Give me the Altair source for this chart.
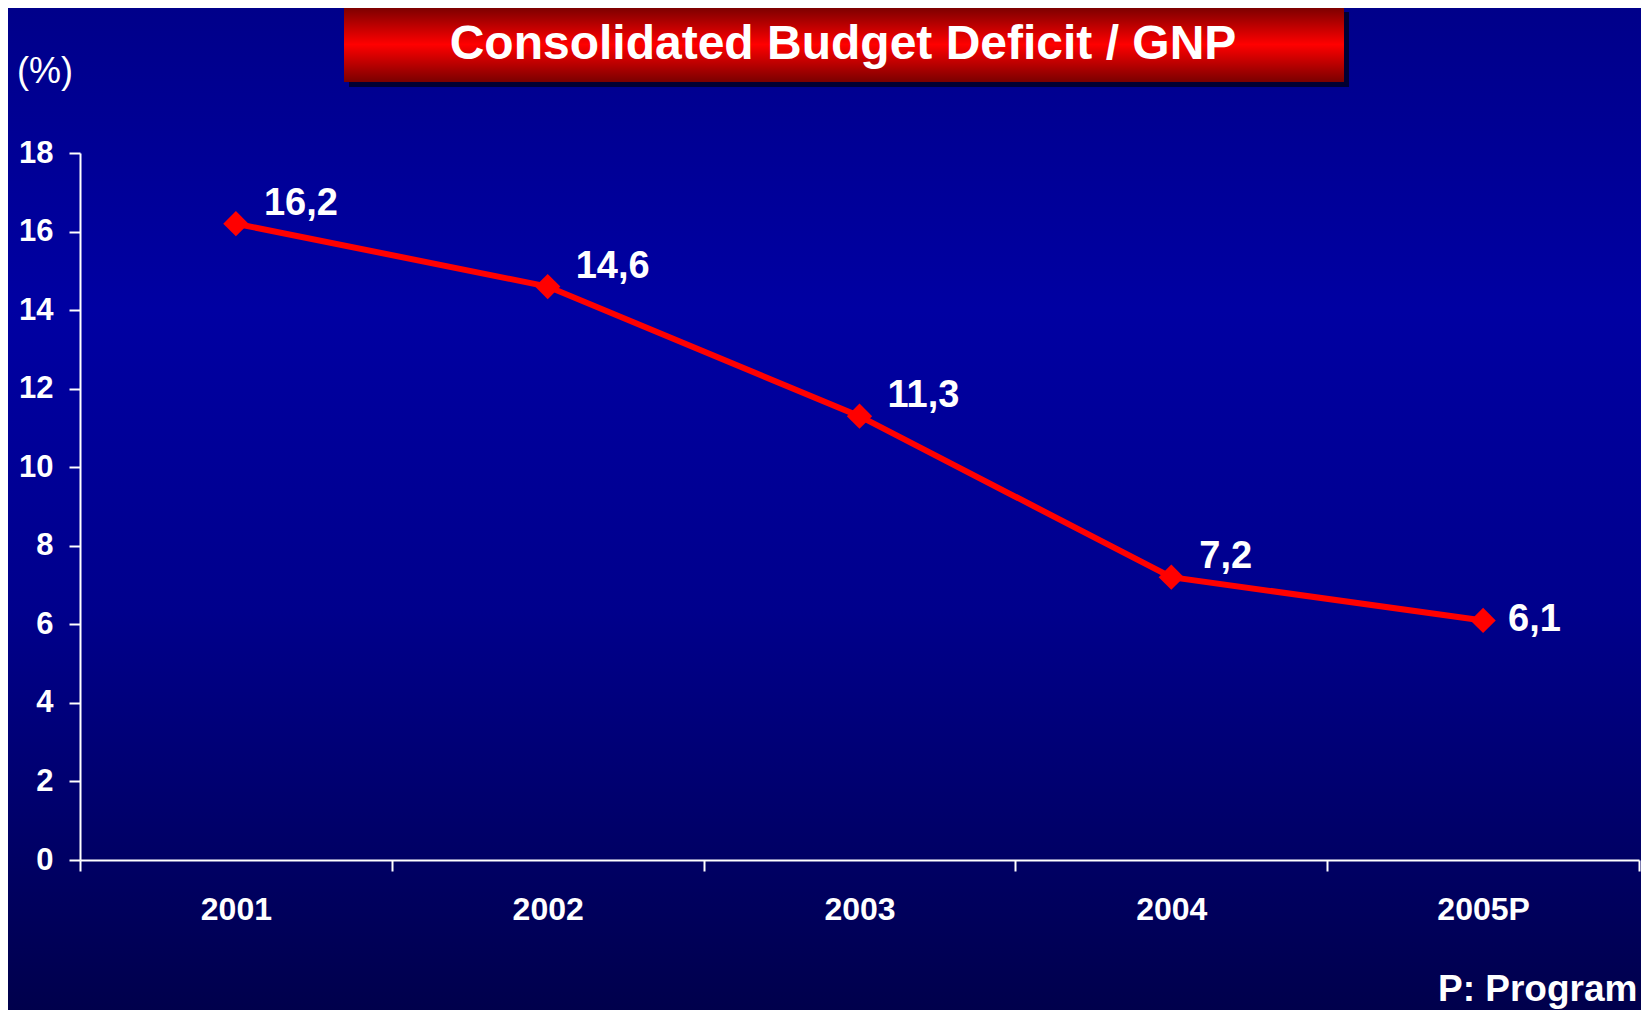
import altair as alt
import pandas as pd

years = ["2001", "2002", "2003", "2004", "2005P"]
deficit = [16.2, 14.6, 11.3, 7.2, 6.1]
labels = ["16,2", "14,6", "11,3", "7,2", "6,1"]
y_ticks = [0, 2, 4, 6, 8, 10, 12, 14, 16, 18]
title_text = "Consolidated Budget Deficit / GNP"
unit_text = "(%)"
note_text = "P: Program"

W, H = 1559, 707
PAD = {"left": 72, "top": 145, "right": 2, "bottom": 150}

df = pd.DataFrame({"year": years, "value": deficit, "label": labels})
one = alt.Data(values=[{"a": 1}])

FONT = "Liberation Sans"

xenc = alt.X("year:N", sort=years,
             scale=alt.Scale(type="band", paddingInner=0, paddingOuter=0),
             axis=alt.Axis(title=None, tickBand="extent", labelAngle=0, zindex=1,
                           labelFontSize=32, labelFontWeight="bold", labelFont=FONT,
                           labelColor="white", labelPadding=23,
                           domainColor="white", domainWidth=2,
                           tickColor="white", tickWidth=2, tickSize=11))
yenc = alt.Y("value:Q", scale=alt.Scale(domain=[0, 18], nice=False, zero=True),
             axis=alt.Axis(title=None, values=y_ticks, grid=False, zindex=1,
                           labelFontSize=31, labelFontWeight="bold", labelFont=FONT,
                           labelColor="white", labelPadding=16,
                           domainColor="white", domainWidth=2,
                           tickColor="white", tickWidth=2, tickSize=11))

bg = alt.Chart(one).mark_rect(
    fill=alt.Gradient(gradient="linear", x1=0, y1=0, x2=0, y2=1,
                      stops=[alt.GradientStop(color="#00008A", offset=0),
                             alt.GradientStop(color="#0000A2", offset=0.3),
                             alt.GradientStop(color="#00008C", offset=0.6),
                             alt.GradientStop(color="#00004C", offset=1)])
).encode(x=alt.value(-PAD["left"]), x2=alt.value(W + PAD["right"]),
         y=alt.value(-PAD["top"]), y2=alt.value(H + PAD["bottom"]))

shadow = alt.Chart(one).mark_rect(fill="#000033").encode(
    x=alt.value(269), x2=alt.value(1269), y=alt.value(-141), y2=alt.value(-66))

box = alt.Chart(one).mark_rect(
    fill=alt.Gradient(gradient="linear", x1=0, y1=0, x2=0, y2=1,
                      stops=[alt.GradientStop(color="#7A0000", offset=0),
                             alt.GradientStop(color="#FF0000", offset=0.5),
                             alt.GradientStop(color="#7A0000", offset=1)])
).encode(x=alt.value(264), x2=alt.value(1264), y=alt.value(-146), y2=alt.value(-71))

title = alt.Chart(one).mark_text(
    text=title_text, font=FONT, fontSize=48, fontWeight="bold", color="white",
    align="center", baseline="middle"
).encode(x=alt.value(763), y=alt.value(-108))

unit = alt.Chart(one).mark_text(
    text=unit_text, font=FONT, fontSize=36, color="white",
    align="center", baseline="middle"
).encode(x=alt.value(-35), y=alt.value(-81))

note = alt.Chart(one).mark_text(
    text=note_text, font=FONT, fontSize=37, fontWeight="bold", color="white",
    align="left", baseline="alphabetic"
).encode(x=alt.value(1358), y=alt.value(848))

base = alt.Chart(df)
line = base.mark_line(color="#FF0000", strokeWidth=6).encode(x=xenc, y=yenc)
pts = base.mark_point(shape="diamond", size=640, filled=True, color="#FF0000",
                      opacity=1).encode(x=xenc, y=yenc)
lab_a = base.transform_filter(alt.datum.year != "2005P").mark_text(
    font=FONT, fontSize=38, fontWeight="bold", color="white",
    align="left", baseline="middle", dx=28, dy=-20
).encode(x=xenc, y=yenc, text="label:N")
lab_b = base.transform_filter(alt.datum.year == "2005P").mark_text(
    font=FONT, fontSize=38, fontWeight="bold", color="white",
    align="left", baseline="middle", dx=25, dy=0
).encode(x=xenc, y=yenc, text="label:N")

chart = alt.layer(bg, shadow, box, title, unit, note, line, pts, lab_a, lab_b).properties(
    width=W, height=H,
    autosize=alt.AutoSizeParams(type="none"),
    padding=PAD,
    background="#00008A",
).configure_view(stroke=None)

chart.save("out.html", embed_options={"renderer": "svg", "actions": False})
